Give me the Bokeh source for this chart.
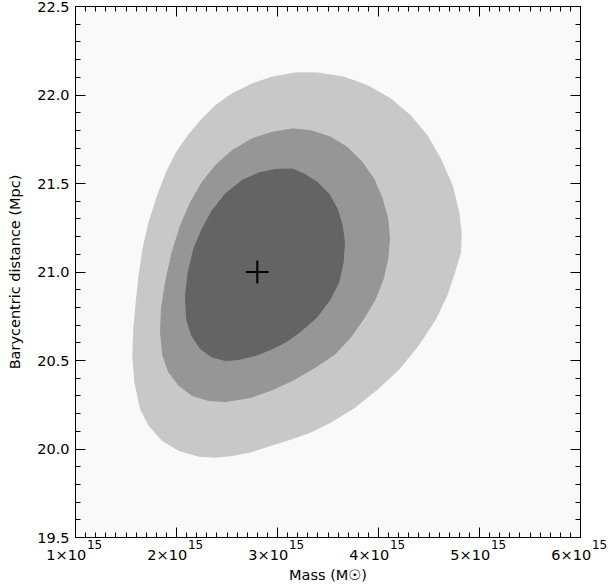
from bokeh.plotting import figure
from bokeh.models import (Range1d, LinearAxis, SingleIntervalTicker,
                          CustomJSTickFormatter, PrintfTickFormatter)
from bokeh.embed import file_html
from bokeh.resources import INLINE

# Mass in units of 1e15 solar masses, distance in Mpc (contour outlines)
outer_mass = [2.551, 2.750, 2.948, 3.178, 3.393, 3.657, 3.888, 4.119, 4.317, 4.482,
              4.614, 4.730, 4.795, 4.819, 4.812, 4.762, 4.680, 4.564, 4.399, 4.201,
              3.987, 3.756, 3.525, 3.327, 3.129, 2.931, 2.733, 2.554, 2.386, 2.221,
              2.023, 1.858, 1.726, 1.644, 1.587, 1.567, 1.577, 1.601, 1.629, 1.668,
              1.728, 1.812, 1.901, 2.000, 2.114, 2.254, 2.386]
outer_dist = [22.007, 22.063, 22.101, 22.125, 22.125, 22.101, 22.054, 21.979, 21.884, 21.771,
              21.640, 21.489, 21.338, 21.225, 21.112, 21.014, 20.871, 20.732, 20.589, 20.449,
              20.336, 20.231, 20.151, 20.095, 20.055, 20.020, 19.983, 19.963, 19.954, 19.959,
              19.992, 20.048, 20.133, 20.227, 20.377, 20.528, 20.679, 20.829, 20.980, 21.131,
              21.281, 21.432, 21.564, 21.677, 21.771, 21.866, 21.941]

middle_mass = [2.948, 3.149, 3.327, 3.525, 3.690, 3.839, 3.953, 4.037, 4.092, 4.109,
               4.092, 4.047, 3.970, 3.861, 3.723, 3.564, 3.386, 3.149, 2.931, 2.733,
               2.485, 2.320, 2.155, 2.023, 1.924, 1.864, 1.842, 1.851, 1.891, 1.957,
               2.040, 2.139, 2.254, 2.386, 2.551, 2.750]
middle_dist = [21.790, 21.808, 21.799, 21.762, 21.705, 21.620, 21.527, 21.414, 21.301, 21.188,
               21.075, 20.962, 20.849, 20.743, 20.630, 20.534, 20.466, 20.387, 20.331, 20.291,
               20.268, 20.274, 20.302, 20.359, 20.434, 20.528, 20.660, 20.792, 20.942, 21.112,
               21.263, 21.394, 21.507, 21.602, 21.686, 21.753]

inner_mass = [2.980, 3.149, 3.260, 3.393, 3.508, 3.591, 3.641, 3.663, 3.650, 3.607,
              3.515, 3.386, 3.228, 3.089, 2.948, 2.782, 2.617, 2.485, 2.353, 2.238,
              2.149, 2.099, 2.089, 2.116, 2.171, 2.254, 2.353, 2.485, 2.650, 2.815]
inner_dist = [21.579, 21.582, 21.555, 21.507, 21.442, 21.357, 21.263, 21.168, 21.055, 20.942,
              20.839, 20.743, 20.664, 20.607, 20.566, 20.528, 20.506, 20.500, 20.519, 20.566,
              20.641, 20.736, 20.867, 20.999, 21.131, 21.244, 21.347, 21.442, 21.517, 21.560]

best_mass = [2.80]
best_dist = [21.00]

x_exponent = "15"

level_colors = ["#c8c8c8", "#969696", "#646464"]

FONT = "DejaVu Sans"

p = figure(width=610, height=586,
           x_range=Range1d(1, 6), y_range=Range1d(19.5, 22.5),
           output_backend="svg", toolbar_location=None,
           x_axis_location=None, y_axis_location=None,
           min_border_left=75, min_border_right=30, min_border_top=6, min_border_bottom=49)
p.background_fill_color = "#f9f9f9"
p.border_fill_color = "white"
p.outline_line_color = None
p.grid.visible = False

p.patch(outer_mass, outer_dist, fill_color=level_colors[0], line_color=level_colors[0], line_width=1)
p.patch(middle_mass, middle_dist, fill_color=level_colors[1], line_color=level_colors[1], line_width=1)
p.patch(inner_mass, inner_dist, fill_color=level_colors[2], line_color=level_colors[2], line_width=1)
p.scatter(best_mass, best_dist, marker="cross", size=23, line_width=2, line_color="black")

# mantissa part "k×10" (shifted left by two figure spaces) and raised exponent part
xfmt = CustomJSTickFormatter(code="return tick.toFixed(0) + '\u00d710\u2007\u2007';")
expfmt = CustomJSTickFormatter(args=dict(e=x_exponent),
                               code="return '\u2007\u2007\u2007\u2007\u2007' + e;")
blank = CustomJSTickFormatter(code="return '';")


def style(ax):
    ax.axis_line_color = "black"
    ax.major_tick_in = 10
    ax.major_tick_out = 0
    ax.minor_tick_in = 5
    ax.minor_tick_out = 0
    ax.major_tick_line_color = "black"
    ax.minor_tick_line_color = "black"
    ax.major_label_text_font = FONT
    ax.major_label_text_color = "black"
    ax.major_label_text_font_size = "14.5px"
    ax.axis_label_text_font = FONT
    ax.axis_label_text_font_style = "normal"
    ax.axis_label_text_color = "black"
    ax.axis_label_text_font_size = "14.5px"


# bottom: axis line, ticks and exponent labels (nearest to frame)
xe = LinearAxis(ticker=SingleIntervalTicker(interval=1, num_minor_ticks=10), formatter=expfmt)
style(xe)
xe.major_label_text_font_size = "12px"
xe.major_label_standoff = 0
p.add_layout(xe, "below")

# bottom: mantissa labels and axis title
xb = LinearAxis(ticker=SingleIntervalTicker(interval=1, num_minor_ticks=10),
                formatter=xfmt, axis_label="Mass (M\u2609)")
style(xb)
xb.axis_line_color = None
xb.major_tick_line_color = None
xb.minor_tick_line_color = None
xb.major_tick_in = 0
xb.minor_tick_in = 0
xb.major_label_standoff = -8
xb.axis_label_standoff = 1
p.add_layout(xb, "below")

xt = LinearAxis(ticker=SingleIntervalTicker(interval=1, num_minor_ticks=10), formatter=blank)
style(xt)
xt.major_label_standoff = 0
p.add_layout(xt, "above")

yl = LinearAxis(ticker=SingleIntervalTicker(interval=0.5, num_minor_ticks=5),
                formatter=PrintfTickFormatter(format="%.1f"),
                axis_label="Barycentric distance (Mpc)")
style(yl)
yl.major_label_standoff = 6
yl.axis_label_standoff = 11
p.add_layout(yl, "left")
yr = LinearAxis(ticker=SingleIntervalTicker(interval=0.5, num_minor_ticks=5), formatter=blank)
style(yr)
yr.major_label_standoff = 0
p.add_layout(yr, "right")

open("out.html", "w").write(file_html(p, INLINE))
